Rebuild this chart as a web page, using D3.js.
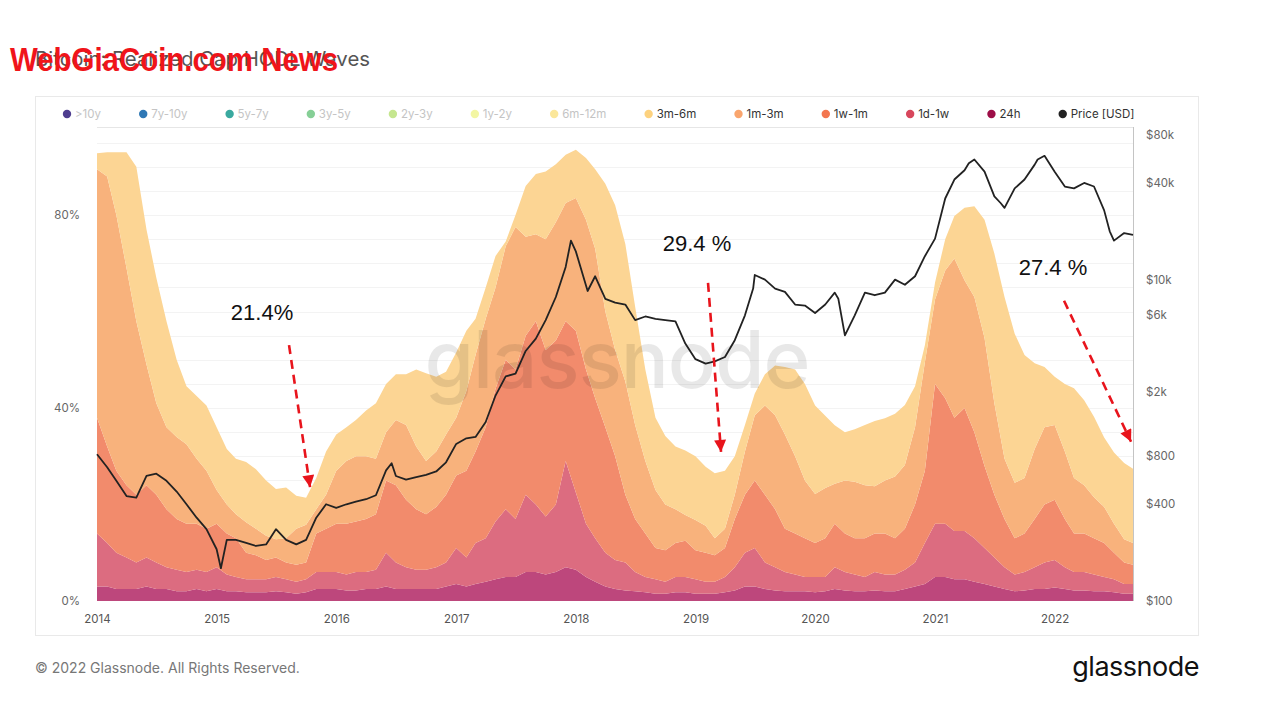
<!DOCTYPE html>
<html><head><meta charset="utf-8">
<script src="https://cdn.jsdelivr.net/npm/d3@7"></script>
<style>
body{margin:0;background:#fff;}
svg{display:block;font-family:Inter,"Noto Sans",Arial,sans-serif;}
</style></head>
<body><svg id="c" width="1277" height="718"></svg>
<script>
// ---------- DATA ----------
const months = ("2014-01 2014-02 2014-03 2014-04 2014-05 2014-06 2014-07 2014-08 2014-09 2014-10 2014-11 2014-12 " +
"2015-01 2015-02 2015-03 2015-04 2015-05 2015-06 2015-07 2015-08 2015-09 2015-10 2015-11 2015-12 " +
"2016-01 2016-02 2016-03 2016-04 2016-05 2016-06 2016-07 2016-08 2016-09 2016-10 2016-11 2016-12 " +
"2017-01 2017-02 2017-03 2017-04 2017-05 2017-06 2017-07 2017-08 2017-09 2017-10 2017-11 2017-12 " +
"2018-01 2018-02 2018-03 2018-04 2018-05 2018-06 2018-07 2018-08 2018-09 2018-10 2018-11 2018-12 " +
"2019-01 2019-02 2019-03 2019-04 2019-05 2019-06 2019-07 2019-08 2019-09 2019-10 2019-11 2019-12 " +
"2020-01 2020-02 2020-03 2020-04 2020-05 2020-06 2020-07 2020-08 2020-09 2020-10 2020-11 2020-12 " +
"2021-01 2021-02 2021-03 2021-04 2021-05 2021-06 2021-07 2021-08 2021-09 2021-10 2021-11 2021-12 " +
"2022-01 2022-02 2022-03 2022-04 2022-05 2022-06 2022-07 2022-08-01 2022-08-28").split(" ");

const band24h = [3,3,2.5,2.5,2.5,3,2.5,2.5,2,2,2.5,2,
 2.5,2,2,1.8,1.8,1.8,2,1.8,1.5,1.8,2.5,2.5,
 2.5,2.2,2.2,2.5,2.5,3,2.5,2.5,2.5,2.5,2.5,3,
 3.5,3,3.5,4,4.5,5,5,6,6,5.5,6,7,
 6.5,5,4,3,2.5,2.2,2,1.8,1.5,1.5,1.8,1.8,
 1.5,1.5,1.5,1.8,2.2,3,3,2.5,2.2,2,2,2,
 1.8,2,2.5,2.2,2,2,2.2,2,2,2.5,3,3.5,
 5,5,4.5,4.5,4,3.5,3,2.5,2,2.2,2.5,2.5,
 2.8,2.5,2.2,2.2,2,2,1.8,1.5,1.5];
const band1d1w = [11,9,7.5,6.5,5.5,6,5.5,4.5,4.5,4,4,4,
 4.5,3.5,3,2.7,2.7,2.7,3,2.7,2.5,2.7,3.5,3.5,
 3.5,3.3,3.8,3.5,4,7,5.5,4.5,4,4,4.5,5,
 7.5,6,8.5,9,12,14,12,16,14,12,14,22,
 16,11,9,7,6,5.8,4,3.2,3,2.5,3.2,3.2,
 3,2.5,2.5,3.2,4.8,7,8,5.5,4.8,4,3.5,3,
 3.2,3,4.5,3.8,3.5,3,3.8,3.5,3.5,4,5,8.5,
 11,11,10,10,9,7.5,6,4.5,3.5,3.8,4.5,5.5,
 5.7,4.5,3.8,3.8,3.5,3,2.7,2,2];
const band1w1m = [24,20,17,15,14,15,14,12,10.5,10,9.5,9,
 9,8.5,8,5.5,5,4,4,3.5,3.5,3.5,8,9,
 10,10.5,10.5,11,11.5,15,16,14,12.5,11.5,12.5,14,
 15,18,19,23,27.5,31,31,33,38,34.5,34,29,
 33.5,32,29,26,21.5,14,11,9,6.5,6.5,7,7.5,
 6,6,5.5,6,10,12,14,14,12,9,8.5,8,
 7,8,9,8,7.5,8,8,8.5,7.5,8.5,12,15,
 29,26,23.5,25.5,22,17,13,10,7.5,8,10,12,
 12.5,10,8,8,7.5,7,5.5,4.5,4];
const band1m3m = [51.5,56,53,45,36,25,19,17,17,16.5,13.5,12,
 7,6,5,6.3,5.5,5,3.8,5,7.5,7.8,5,7,
 11,13,13.5,13,11.5,10,13.5,15.5,13,11,11.5,12.5,
 12,16.5,20,22.5,21,23.5,29.5,20.5,18,23,24.5,24.5,
 27.5,31,31,24,22,23.5,19.5,15,12,9.5,7,5.3,
 6.3,5.6,3.5,4,5,9,13.5,18.5,19.5,19.5,16,12,
 10.2,10.4,8.3,11,11.7,11,9.8,11,12.8,13.2,16,22.5,
 17.5,26.5,33,26.5,28,26.5,19,12.5,11.5,11.5,14.5,16,
 15.5,14,11.5,10,8.5,7.5,6,4.8,4.5];
const band3m6m = [3.3,5,13,24,32,28,26,22,16,12,13,13.5,
 13,11.5,11.5,12.5,12.3,11.5,10.4,10.5,6.8,5.6,6.5,9,
 7.5,7,7.5,9.5,11.5,10,9.5,10.5,16,18.2,15.5,13,
 13.5,12.5,7.5,6.5,6.5,1,2.5,10.5,12.5,14,12,10,
 10,12.8,16.5,26.5,30,28.5,24.5,19,15,14.2,13,13.4,
 13.2,12.2,13.5,12,8,5.5,4.5,6.5,10.3,14,18,20,
 18.3,15,12.1,10,10.9,12.5,13.5,12.9,13,12.4,8.5,3.5,
 3.5,6.5,8.8,15,18.8,24.5,31,33.5,30.9,25.5,17.8,12.5,
 10,14,18.6,17.6,16.7,14.4,14.8,15.8,15.4];

// price read at month starts plus a few visible extremes
const priceDates = ("2014-01-01 2014-02-01 2014-03-01 2014-04-01 2014-05-01 2014-06-01 2014-07-01 2014-08-01 2014-09-01 2014-10-01 2014-11-01 2014-12-01 " +
"2015-01-01 2015-01-14 2015-02-01 2015-03-01 2015-04-01 2015-05-01 2015-06-01 2015-07-01 2015-08-01 2015-09-01 2015-10-01 2015-11-01 2015-12-01 " +
"2016-01-01 2016-02-01 2016-03-01 2016-04-01 2016-05-01 2016-06-01 2016-06-18 2016-07-01 2016-08-01 2016-09-01 2016-10-01 2016-11-01 2016-12-01 " +
"2017-01-01 2017-02-01 2017-03-01 2017-04-01 2017-05-01 2017-06-01 2017-07-01 2017-08-01 2017-09-01 2017-10-01 2017-11-01 2017-12-01 2017-12-17 " +
"2018-01-01 2018-02-06 2018-03-01 2018-04-01 2018-05-01 2018-06-01 2018-07-01 2018-08-01 2018-09-01 2018-10-01 2018-11-01 2018-12-01 " +
"2019-01-01 2019-02-01 2019-03-01 2019-04-01 2019-05-01 2019-06-01 2019-06-26 2019-07-01 2019-08-01 2019-09-01 2019-10-01 2019-11-01 2019-12-01 " +
"2020-01-01 2020-02-01 2020-03-01 2020-03-12 2020-04-01 2020-05-01 2020-06-01 2020-07-01 2020-08-01 2020-09-01 2020-10-01 2020-11-01 2020-12-01 " +
"2021-01-01 2021-02-01 2021-03-01 2021-04-01 2021-04-14 2021-05-01 2021-06-01 2021-07-01 2021-07-20 2021-08-01 2021-09-01 2021-10-01 2021-11-01 2021-11-10 2021-12-01 " +
"2022-01-01 2022-02-01 2022-03-01 2022-04-01 2022-05-01 2022-06-01 2022-06-18 2022-07-01 2022-08-01 2022-08-28").split(" ");
const priceUSD = [820,680,560,450,440,600,620,560,480,400,330,280,
 210,160,240,240,230,220,225,280,240,225,240,330,400,
 380,400,415,430,455,650,720,600,570,590,610,640,730,
 950,1030,1050,1300,1900,2500,2600,3600,4300,5600,7800,12000,17500,
 15000,8500,10500,7600,7200,7000,5600,5900,5700,5600,5500,4000,3200,
 3000,3100,3300,4200,6000,8800,10700,10000,8800,8400,7000,6900,6200,
 7000,8300,7600,4500,6000,8300,8000,8300,10000,9300,10500,14000,18000,
 32000,42000,48000,53000,56000,47000,33000,30000,28000,37000,42000,52000,56000,59000,47000,
 38000,37000,40000,38000,27000,20000,17500,19500,19000,18500];

const bandKeys = ["24h","1d-1w","1w-1m","1m-3m","3m-6m"];
const bandValues = [band24h, band1d1w, band1w1m, band1m3m, band3m6m];
const bandColors = ["#bd477c","#dc6c80","#f28b6c","#f8b27c","#fcd594"];

const legendLabels = [">10y","7y-10y","5y-7y","3y-5y","2y-3y","1y-2y","6m-12m","3m-6m","1m-3m","1w-1m","1d-1w","24h","Price [USD]"];
const legendColors = ["#4e3d8f","#2f78b5","#3aa99f","#86cf96","#c5e68f","#f3f6a3","#fbe79a","#fdd27f","#f9a56d","#f3764f","#d8475c","#9d0e47","#222222"];
const legendActive = [false,false,false,false,false,false,false,true,true,true,true,true,true];

const pctTicks = [0,40,80];
const priceTicks = [100,400,800,2000,6000,10000,40000,80000];
const priceTickLabels = ["$100","$400","$800","$2k","$6k","$10k","$40k","$80k"];

const annotations = [
  {label:"21.4%", date:"2015-10-13", value:23.6},
  {label:"29.4 %", date:"2019-03-20", value:30.9},
  {label:"27.4 %", date:"2022-08-22", value:33}
];

// ---------- CHART ----------
const svg = d3.select("#c");
const parse = s => s.length===7 ? d3.timeParse("%Y-%m")(s) : d3.timeParse("%Y-%m-%d")(s);
const dates = months.map(parse);
const rows = dates.map((d,i)=>{ const r={date:d}; bandKeys.forEach((k,j)=>r[k]=bandValues[j][i]); return r; });
const priceRows = priceDates.map((d,i)=>({date:parse(d), price:priceUSD[i]}));

const L=97, R=1133, B=601, T=118.5;
const x = d3.scaleTime().domain([dates[0], dates[dates.length-1]]).range([L,R]);
const y = d3.scaleLinear().domain([0,100]).range([B,T]);
const yp = d3.scaleLog().domain([100,100000]).range([B,T+0.5]);

// container
svg.append("rect").attr("x",35.5).attr("y",96.5).attr("width",1163).attr("height",539)
  .attr("fill","none").attr("stroke","#e9e9e9");

// title + overlay
svg.append("text").attr("x",35).attr("y",66).attr("font-size",20).attr("fill","#555")
  .attr("textLength",335).attr("lengthAdjust","spacingAndGlyphs")
  .text("Bitcoin: Realized Cap HODL Waves");
svg.append("text").attr("x",10).attr("y",71).attr("font-family","Arial, Liberation Sans, sans-serif")
  .attr("font-weight","bold").attr("font-size",33).attr("fill","#f0141a")
  .attr("textLength",328).attr("lengthAdjust","spacingAndGlyphs").text("WebGiaCoin.com News");

// grid
const grid = svg.append("g");
grid.selectAll("line").data(d3.range(5,100,5)).join("line")
  .attr("x1",L).attr("x2",R).attr("y1",d=>Math.round(y(d))+0.5).attr("y2",d=>Math.round(y(d))+0.5)
  .attr("stroke","#f3f3f3");
svg.append("line").attr("x1",L).attr("x2",R).attr("y1",127.5).attr("y2",127.5).attr("stroke","#e6e6e6");

// areas
const stack = d3.stack().keys(bandKeys)(rows);
const area = d3.area().x(d=>x(d.data.date)).y0(d=>y(d[0])).y1(d=>y(d[1]));
svg.append("g").selectAll("path").data(stack).join("path")
  .attr("d",area).attr("fill",(d,i)=>bandColors[i]);

// watermark
svg.append("text").attr("x",617).attr("y",388).attr("text-anchor","middle")
  .attr("font-size",80).attr("font-weight",500).attr("fill","#000").attr("fill-opacity",0.09)
  .attr("letter-spacing",-1).text("glassnode");

// right frame line
svg.append("line").attr("x1",R+0.5).attr("x2",R+0.5).attr("y1",127).attr("y2",B).attr("stroke","#c4c4c4");

// price line
const line = d3.line().x(d=>x(d.date)).y(d=>yp(d.price));
svg.append("path").datum(priceRows).attr("d",line).attr("fill","none")
  .attr("stroke","#222").attr("stroke-width",1.8).attr("stroke-linejoin","round");

// axes
const styleAxis = (g,c)=>{g.select(".domain").remove(); g.selectAll("text").attr("font-size",11.5).attr("fill",c).attr("font-family","Inter, sans-serif");};
svg.append("g").attr("transform","translate(80,0)")
  .call(d3.axisLeft(y).tickValues(pctTicks).tickFormat(d=>d+"%").tickSize(0).tickPadding(0))
  .call(g=>styleAxis(g,"#666"));
svg.append("g").attr("transform","translate(1146,0)")
  .call(d3.axisRight(yp).tickValues(priceTicks).tickFormat((d,i)=>priceTickLabels[i]).tickSize(0).tickPadding(0))
  .call(g=>styleAxis(g,"#666"));
svg.append("g").attr("transform","translate(0,615)")
  .call(d3.axisBottom(x).ticks(d3.timeYear.every(1)).tickFormat(d3.timeFormat("%Y")).tickSize(0).tickPadding(0))
  .call(g=>styleAxis(g,"#555"));

// legend
const lg = svg.append("g").attr("transform","translate(0,114)");
let lx = 67;
legendLabels.forEach((lab,i)=>{
  lg.append("circle").attr("cx",lx).attr("cy",0).attr("r",4.2).attr("fill",legendColors[i]);
  const t = lg.append("text").attr("x",lx+8).attr("y",4).attr("font-size",11.5)
    .attr("fill",legendActive[i]?"#333":"#c4c4c4").text(lab);
  lx += 8 + t.node().getComputedTextLength() + 42.2;
});

// annotations
const defs = svg.append("defs");
defs.append("marker").attr("id","ah").attr("viewBox","0 0 10 10").attr("refX",10).attr("refY",5)
  .attr("markerWidth",14).attr("markerHeight",12).attr("markerUnits","userSpaceOnUse").attr("orient","auto")
  .append("path").attr("d","M0,0L10,5L0,10z").attr("fill","#e8141c");
const annOffsets = [
  {tx:-21, ty:-142, lx:-48, ly:-167},
  {tx:-13, ty:-169, lx:-24, ly:-201},
  {tx:-67, ty:-141, lx:-78, ly:-167}
];
annotations.forEach((a,i)=>{
  const px = x(parse(a.date)), py = y(a.value), o = annOffsets[i];
  svg.append("line").attr("x1",px+o.tx).attr("y1",py+o.ty).attr("x2",px).attr("y2",py)
    .attr("stroke","#e8141c").attr("stroke-width",2.6).attr("stroke-dasharray","9,6")
    .attr("marker-end","url(#ah)");
  svg.append("text").attr("x",px+o.lx).attr("y",py+o.ly).attr("text-anchor","middle")
    .attr("font-family","Arial, Liberation Sans, sans-serif").attr("font-size",22).attr("fill","#111")
    .text(a.label);
});

// footer
svg.append("text").attr("x",35).attr("y",673).attr("font-size",14).attr("fill","#777")
  .text("© 2022 Glassnode. All Rights Reserved.");
svg.append("text").attr("x",1199).attr("y",676).attr("text-anchor","end").attr("font-size",27)
  .attr("fill","#111").attr("letter-spacing",-0.5).text("glassnode");
</script></body></html>
